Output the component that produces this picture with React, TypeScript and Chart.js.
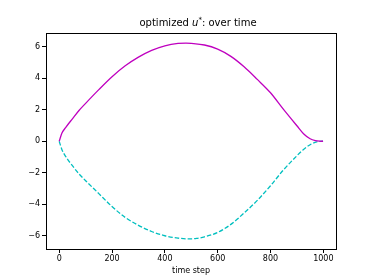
import React, { useEffect, useRef } from "react";
import { Chart, registerables } from "chart.js";

Chart.register(...registerables);

const magentaT = [0, 10, 25, 50, 75, 100, 150, 200, 250, 300, 350, 400, 450, 480, 500, 550, 600, 650, 700, 750, 800, 850, 900, 925, 950, 970, 985, 999];
const magentaU = [0, 0.5, 0.88, 1.42, 1.95, 2.4, 3.27, 4.09, 4.78, 5.33, 5.76, 6.05, 6.2, 6.22, 6.2, 6.1, 5.84, 5.38, 4.72, 3.92, 3.07, 2.0, 0.98, 0.48, 0.16, 0.04, 0.005, 0];

const cyanT = [0, 10, 25, 50, 75, 100, 150, 200, 250, 300, 350, 400, 450, 490, 520, 550, 600, 650, 700, 750, 800, 850, 900, 925, 950, 975, 990, 999];
const cyanU = [0, -0.52, -0.98, -1.55, -2.07, -2.5, -3.32, -4.14, -4.83, -5.33, -5.72, -5.99, -6.14, -6.19, -6.16, -6.06, -5.78, -5.27, -4.55, -3.75, -2.82, -1.8, -0.92, -0.52, -0.22, -0.04, -0.005, 0];

const xTicks = [0, 200, 400, 600, 800, 1000];
const yTicks = [-6, -4, -2, 0, 2, 4, 6];

const toPts = (t: number[], u: number[]) => t.map((x, i) => ({ x, y: u[i] }));

export default function App() {
  const ref = useRef<HTMLCanvasElement | null>(null);
  useEffect(() => {
    document.body.style.margin = "0";
    const canvas = ref.current!;
    const framePlugin = {
      id: "frame",
      afterDraw(chart: any) {
        const { ctx, chartArea: a } = chart;
        ctx.save();
        ctx.strokeStyle = "#000";
        ctx.lineWidth = 1;
        ctx.strokeRect(Math.round(a.left) + 0.5, Math.round(a.top) + 0.5, Math.round(a.right - a.left), Math.round(a.bottom - a.top));
        const fam = "'DejaVu Sans', sans-serif";
        const size = 10;
        const parts: { s: string; f: string; dy: number }[] = [
          { s: "optimized ", f: `${size}px ${fam}`, dy: 0 },
          { s: "u", f: `italic ${size}px ${fam}`, dy: 0 },
          { s: "*", f: `${Math.round(size * 0.7)}px ${fam}`, dy: -4 },
          { s: ": over time", f: `${size}px ${fam}`, dy: 0 },
        ];
        let w = 0;
        for (const p of parts) { ctx.font = p.f; w += ctx.measureText(p.s).width; }
        let x = (a.left + a.right) / 2 + 7 - w / 2;
        const y = 26;
        ctx.fillStyle = "#000";
        ctx.textBaseline = "alphabetic";
        for (const p of parts) {
          ctx.font = p.f;
          ctx.fillText(p.s, x, y + p.dy);
          x += ctx.measureText(p.s).width;
        }
        ctx.restore();
      },
    };
    const tickFont = { family: "'DejaVu Sans', sans-serif", size: 8 };
    const chart = new Chart(canvas, {
      type: "line",
      data: {
        datasets: [
          {
            data: toPts(magentaT, magentaU),
            borderColor: "#bf00bf",
            borderWidth: 1.3,
            pointRadius: 0,
            cubicInterpolationMode: "monotone",
            fill: false,
          },
          {
            data: toPts(cyanT, cyanU),
            borderColor: "#00bfbf",
            borderWidth: 1.3,
            borderDash: [4.5, 2],
            pointRadius: 0,
            cubicInterpolationMode: "monotone",
            fill: false,
          },
        ],
      },
      options: {
        animation: false,
        responsive: false,
        layout: { padding: { top: 33, right: 38, left: 0, bottom: 4 } },
        plugins: { legend: { display: false }, tooltip: { enabled: false }, title: { display: false } },
        scales: {
          x: {
            type: "linear",
            min: -50,
            max: 1048,
            afterBuildTicks: (s: any) => { s.ticks = xTicks.map((v) => ({ value: v })); },
            afterFit: (s: any) => { s.height = 27; },
            grid: { drawOnChartArea: false, drawTicks: true, tickLength: 4, color: "#000", tickWidth: 1 },
            border: { display: false },
            ticks: { color: "#000", font: tickFont, padding: 1, maxRotation: 0, autoSkip: false, callback: (v: any) => String(v) },
            title: { display: true, text: "time step", color: "#000", font: tickFont, padding: { top: 1, bottom: 0 } },
          },
          y: {
            type: "linear",
            min: -6.83,
            max: 6.86,
            afterBuildTicks: (s: any) => { s.ticks = yTicks.map((v) => ({ value: v })); },
            afterFit: (s: any) => { s.width = 46; },
            grid: { drawOnChartArea: false, drawTicks: true, tickLength: 4, color: "#000", tickWidth: 1 },
            border: { display: false },
            ticks: { color: "#000", font: tickFont, padding: 2, autoSkip: false, callback: (v: any) => (Number(v) < 0 ? "\u2212" + Math.abs(Number(v)) : String(v)) },
          },
        },
      },
      plugins: [framePlugin],
    } as any);
    return () => chart.destroy();
  }, []);
  return <canvas ref={ref} width={374} height={280} style={{ display: "block", width: 374, height: 280 }} />;
}
